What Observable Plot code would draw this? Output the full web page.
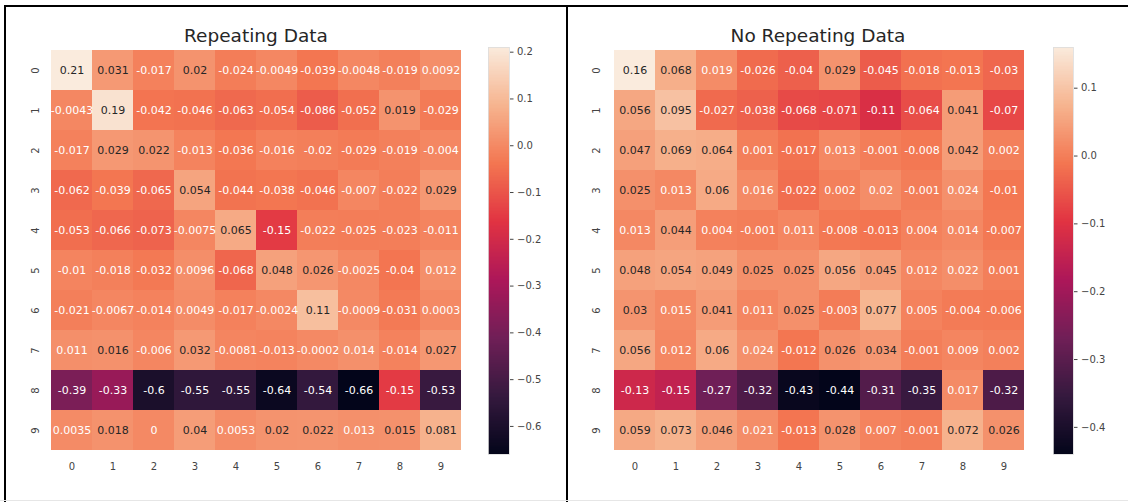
<!DOCTYPE html>
<html><head><meta charset="utf-8">
<script src="https://cdn.jsdelivr.net/npm/d3@7"></script>
<script src="https://cdn.jsdelivr.net/npm/@observablehq/plot@0.6"></script>
<style>
body{margin:0;background:#fff;}
#root{position:relative;width:1128px;height:502px;overflow:hidden;font-family:"DejaVu Sans",sans-serif;background:#fff;}
.title{position:absolute;font-size:18.5px;line-height:18px;color:#262626;text-align:center;width:400px;white-space:nowrap;}
.line{position:absolute;background:#000;}
</style></head><body><div id="root"></div>
<script>
const rowLabels = ["0","1","2","3","4","5","6","7","8","9"];
const colLabels = ["0","1","2","3","4","5","6","7","8","9"];
const titles = ["Repeating Data", "No Repeating Data"];

const repeating = [
  [0.21, 0.031, -0.017, 0.02, -0.024, -0.0049, -0.039, -0.0048, -0.019, 0.0092],
  [-0.0043, 0.19, -0.042, -0.046, -0.063, -0.054, -0.086, -0.052, 0.019, -0.029],
  [-0.017, 0.029, 0.022, -0.013, -0.036, -0.016, -0.02, -0.029, -0.019, -0.004],
  [-0.062, -0.039, -0.065, 0.054, -0.044, -0.038, -0.046, -0.007, -0.022, 0.029],
  [-0.053, -0.066, -0.073, -0.0075, 0.065, -0.15, -0.022, -0.025, -0.023, -0.011],
  [-0.01, -0.018, -0.032, 0.0096, -0.068, 0.048, 0.026, -0.0025, -0.04, 0.012],
  [-0.021, -0.0067, -0.014, 0.0049, -0.017, -0.0024, 0.11, -0.0009, -0.031, 0.0003],
  [0.011, 0.016, -0.006, 0.032, -0.0081, -0.013, -0.0002, 0.014, -0.014, 0.027],
  [-0.39, -0.33, -0.6, -0.55, -0.55, -0.64, -0.54, -0.66, -0.15, -0.53],
  [0.0035, 0.018, 0, 0.04, 0.0053, 0.02, 0.022, 0.013, 0.015, 0.081]
];
const noRepeating = [
  [0.16, 0.068, 0.019, -0.026, -0.04, 0.029, -0.045, -0.018, -0.013, -0.03],
  [0.056, 0.095, -0.027, -0.038, -0.068, -0.071, -0.11, -0.064, 0.041, -0.07],
  [0.047, 0.069, 0.064, 0.001, -0.017, 0.013, -0.001, -0.008, 0.042, 0.002],
  [0.025, 0.013, 0.06, 0.016, -0.022, 0.002, 0.02, -0.001, 0.024, -0.01],
  [0.013, 0.044, 0.004, -0.001, 0.011, -0.008, -0.013, 0.004, 0.014, -0.007],
  [0.048, 0.054, 0.049, 0.025, 0.025, 0.056, 0.045, 0.012, 0.022, 0.001],
  [0.03, 0.015, 0.041, 0.011, 0.025, -0.003, 0.077, 0.005, -0.004, -0.006],
  [0.056, 0.012, 0.06, 0.024, -0.012, 0.026, 0.034, -0.001, 0.009, 0.002],
  [-0.13, -0.15, -0.27, -0.32, -0.43, -0.44, -0.31, -0.35, 0.017, -0.32],
  [0.059, 0.073, 0.046, 0.021, -0.013, 0.028, 0.007, -0.001, 0.072, 0.026]
];
const repeatingTicks = [0.2, 0.1, 0.0, -0.1, -0.2, -0.3, -0.4, -0.5, -0.6];
const noRepeatingTicks = [0.1, 0.0, -0.1, -0.2, -0.3, -0.4];

const rocket = ["#03051A","#35193E","#701F57","#AD1759","#E13342","#F37651","#F6B48F","#FAEBDD"];
const rocketInterp = d3.piecewise(d3.interpolateRgb, rocket);

const root = document.getElementById("root");
function place(el, left, top) {
  el.style.position = "absolute"; el.style.left = left + "px"; el.style.top = top + "px";
  root.appendChild(el);
}

function heatmap(matrix, ticks, title, o) {
  const data = [];
  matrix.forEach((r, i) => r.forEach((v, j) => data.push({row: rowLabels[i], col: colLabels[j], value: v})));
  const ext = d3.extent(data, d => d.value);
  const color = {type: "linear", domain: ext, interpolate: rocketInterp};
  const tOf = v => (v - ext[0]) / (ext[1] - ext[0]);
  const chart = Plot.plot({
    width: o.w, height: 480,
    marginLeft: o.ml, marginRight: o.mr, marginTop: 47, marginBottom: 28,
    style: {fontFamily: "DejaVu Sans, sans-serif", fontSize: "10px", color: "#444", background: "transparent"},
    x: {domain: colLabels, padding: 0, tickSize: 0, tickPadding: 10, label: null},
    y: {domain: rowLabels, padding: 0, tickSize: 0, tickPadding: 11, tickRotate: -90, label: null},
    color,
    marks: [
      Plot.cell(data, {x: "col", y: "row", fill: "value", inset: 0, shapeRendering: "crispEdges"}),
      Plot.text(data, {x: "col", y: "row", text: d => String(d.value), fontSize: 11,
        fill: d => tOf(d.value) >= 0.7749 ? "#262626" : "#ffffff"})
    ]
  });
  place(chart, o.left, 0);

  const N = 300;
  const strips = d3.range(N).map(i => ({
    lo: ext[0] + (ext[1] - ext[0]) * i / N,
    hi: ext[0] + (ext[1] - ext[0]) * (i + 1) / N,
    mid: ext[0] + (ext[1] - ext[0]) * (i + 0.5) / N
  }));
  const bar = Plot.plot({
    width: o.cbw, height: 480,
    marginLeft: o.cbml, marginRight: o.cbw - o.cbml - o.cbBar, marginTop: 47, marginBottom: 26,
    style: {fontFamily: "DejaVu Sans, sans-serif", fontSize: "10px", color: "#444", background: "transparent"},
    x: {domain: [0, 1], axis: null},
    y: {domain: ext, axis: "right", ticks: ticks, tickFormat: d3.format(".1f"), tickSize: 3.5, tickPadding: 4, label: null},
    color,
    marks: [
      Plot.rect(strips, {x1: 0, x2: 1, y1: "lo", y2: "hi", fill: "mid", shapeRendering: "crispEdges"}),
      Plot.frame({stroke: "#dddddd", strokeWidth: 0.8})
    ]
  });
  place(bar, o.cbLeft, 0);

  const t = document.createElement("div");
  t.className = "title";
  t.textContent = title;
  place(t, o.titleCenter - 200, 27);
}

heatmap(repeating, repeatingTicks, titles[0], {left: 0, w: 480, ml: 49, mr: 17, cbLeft: 480, cbw: 70, cbml: 8, cbBar: 21, titleCenter: 256});
heatmap(noRepeating, noRepeatingTicks, titles[1], {left: 560, w: 480, ml: 50, mr: 13, cbLeft: 1040, cbw: 88, cbml: 13, cbBar: 20, titleCenter: 818});

function line(l, t, w, h, c) {
  const d = document.createElement("div"); d.className = "line";
  d.style.width = w + "px"; d.style.height = h + "px";
  if (c) d.style.background = c;
  place(d, l, t);
}
line(4, 5, 1124, 2);
line(4, 5, 2, 497);
line(566, 5, 2, 497);
line(0, 500, 1128, 1, "#e6e6e6");
</script></body></html>
